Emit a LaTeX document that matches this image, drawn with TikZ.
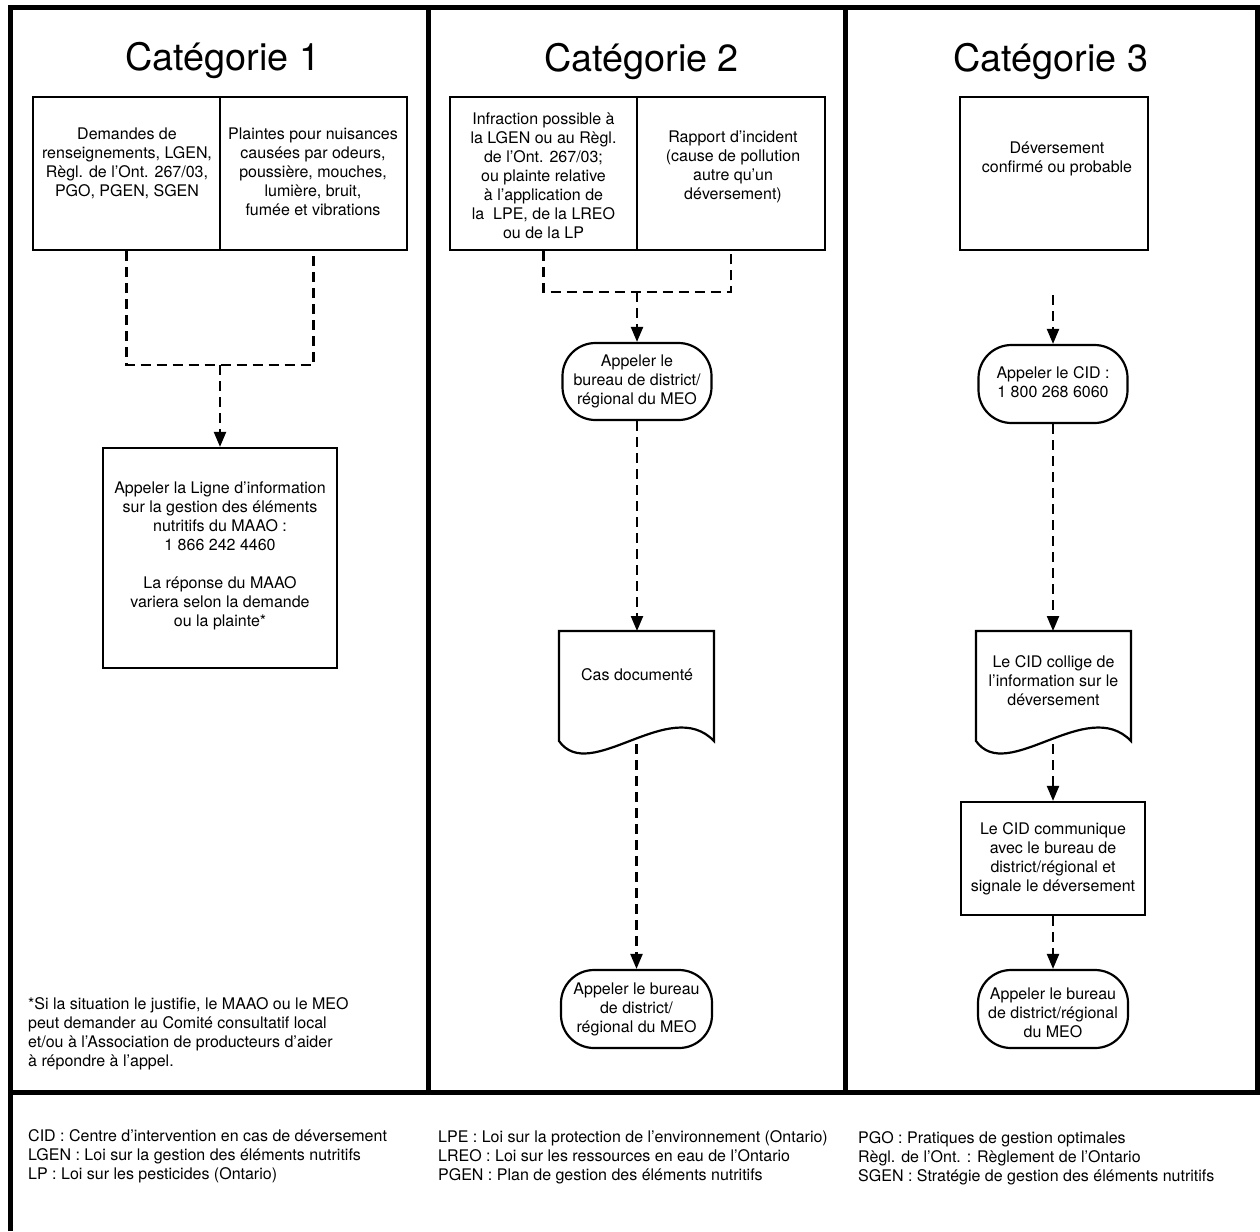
\documentclass[tikz,border=0pt]{standalone}
\usepackage{fontspec}
\setmainfont{TeX Gyre Heros}
\usetikzlibrary{arrows.meta}
\begin{document}
\begin{tikzpicture}[x=1pt,y=-1pt,
  frame/.style={line width=5pt},
  boxstyle/.style={draw, line width=2.2pt, rectangle, inner sep=0pt},
  termstyle/.style={draw, line width=2.2pt, rectangle, rounded corners=33pt, inner sep=0pt},
  hidden/.style={rectangle, inner sep=0pt},
  docline/.style={line width=2.2pt, line join=miter},
  txt/.style={align=center, inner sep=0pt, font=\fontsize{16}{19}\selectfont},
  legend/.style={align=left, anchor=west, inner sep=0pt, font=\fontsize{16}{19}\selectfont},
  titlestyle/.style={inner sep=0pt, font=\fontsize{37.8}{44}\selectfont},
  dashline/.style={line width=2.2pt, dash pattern=on 10pt off 6pt},
  dasharrow/.style={dashline, -{Triangle[length=15pt,width=12pt]}}
]
\useasboundingbox (0,0) rectangle (1260,1231);

% frame
\draw[frame] (10.5,1231) -- (10.5,7.5) -- (1257.5,7.5) -- (1257.5,1092);
\draw[frame] (8,1092) -- (1260,1092);
\draw[frame] (428,7.5) -- (428,1092);
\draw[frame] (845,7.5) -- (845,1092);

% titles
\node[titlestyle] (t1) at (223,61) {Catégorie 1};
\node[titlestyle] (t2) at (641.5,62) {Catégorie 2};
\node[titlestyle] (t3) at (1051,62) {Catégorie 3};

% ---------- Category 1 ----------
\node[boxstyle, minimum width=187pt, minimum height=153pt] (c1a) at (126.5,173.5) {};
\node[boxstyle, minimum width=187pt, minimum height=153pt] (c1b) at (313.5,173.5) {};
\node[txt] (c1at) at (127,163) {Demandes de\\renseignements, LGEN,\\Règl. de l’Ont. 267/03,\\PGO, PGEN, SGEN};
\node[txt] (c1bt) at (313,172) {Plaintes pour nuisances\\causées par odeurs,\\poussière, mouches,\\lumière, bruit,\\fumée et vibrations};
\coordinate (j1) at (220,365);
\draw[dashline] (c1a.south) |- (j1) -| (c1b.south);
\node[boxstyle, minimum width=234pt, minimum height=220pt] (c1c) at (220,558) {};
\node[txt] (c1ct) at (220,556) {Appeler la Ligne d’information\\sur la gestion des éléments\\nutritifs du MAAO :\\1 866 242 4460\\[19pt]La réponse du MAAO\\variera selon la demande\\ou la plainte*};
\draw[dasharrow] (j1) -- (c1c.north);
\node[legend] (note) at (28,1033.5) {*Si la situation le justifie, le MAAO ou le MEO\\peut demander au Comité consultatif local\\et/ou à l’Association de producteurs d’aider\\à répondre à l’appel.};

% ---------- Category 2 ----------
\node[boxstyle, minimum width=187pt, minimum height=153pt] (c2a) at (543.5,173.5) {};
\node[boxstyle, minimum width=188pt, minimum height=153pt] (c2b) at (731,173.5) {};
\node[txt] (c2at) at (543.5,176) {Infraction possible à\\la LGEN ou au Règl.\\de l’Ont. 267/03;\\ou plainte relative\\à l’application de\\la\ \ LPE, de la LREO\\ou de la LP};
\node[txt] (c2bt) at (733,166.5) {Rapport d’incident\\(cause de pollution\\autre qu’un\\déversement)};
\coordinate (j2) at (637,292);
\draw[dashline] (c2a.south) |- (j2) -| (c2b.south);
\node[termstyle, minimum width=149pt, minimum height=77pt] (c2o1) at (637,381.5) {};
\node[txt] (c2o1t) at (637,381.5) {Appeler le\\bureau de district/\\régional du MEO};
\draw[dasharrow] (j2) -- (c2o1.north);
\node[hidden, anchor=north, minimum width=155pt, minimum height=110pt] (c2doc) at (636.5,631) {};
\draw[docline] (559,741) -- (559,631) -- (714,631) -- (714,741) .. controls (670,695) and (590,785) .. (559,741) -- cycle;
\node[txt] (c2doct) at (637,675) {Cas documenté};
\draw[dasharrow] (c2o1.south) -- (c2o1.south |- c2doc.north);
\coordinate (c2docb) at (636.5,744);
\node[termstyle, minimum width=151pt, minimum height=78pt] (c2o2) at (636.5,1009) {};
\node[txt] (c2o2t) at (636.5,1009) {Appeler le bureau\\de district/\\régional du MEO};
\draw[dasharrow] (c2docb) -- (c2o2.north);

% ---------- Category 3 ----------
\node[boxstyle, minimum width=188pt, minimum height=153pt] (c3a) at (1054,173.5) {};
\node[txt] (c3at) at (1057,158.5) {Déversement\\confirmé ou probable};
\coordinate (s3) at (1053,295);
\node[termstyle, minimum width=149pt, minimum height=78pt] (c3o1) at (1053,384) {};
\node[txt] (c3o1t) at (1053,382.5) {Appeler le CID :\\1 800 268 6060};
\draw[dasharrow] (s3) -- (c3o1.north);
\node[hidden, anchor=north, minimum width=155pt, minimum height=110pt] (c3doc) at (1053.5,631) {};
\draw[docline] (976,741) -- (976,631) -- (1131,631) -- (1131,741) .. controls (1087,695) and (1007,785) .. (976,741) -- cycle;
\node[txt] (c3doct) at (1053.5,681) {Le CID collige de\\l’information sur le\\déversement};
\draw[dasharrow] (c3o1.south) -- (c3o1.south |- c3doc.north);
\coordinate (c3docb) at (1053,744);
\node[boxstyle, minimum width=184pt, minimum height=113pt] (c3b) at (1053,858.5) {};
\node[txt] (c3bt) at (1053,858.5) {Le CID communique\\avec le bureau de\\district/régional et\\signale le déversement};
\draw[dasharrow] (c3docb) -- (c3b.north);
\node[termstyle, minimum width=150pt, minimum height=78pt] (c3o2) at (1053,1009) {};
\node[txt] (c3o2t) at (1053,1013) {Appeler le bureau\\de district/régional\\du MEO};
\draw[dasharrow] (c3b.south) -- (c3o2.north);

% ---------- Legend ----------
\node[legend] (lg1) at (28,1156) {CID : Centre d’intervention en cas de déversement\\LGEN : Loi sur la gestion des éléments nutritifs\\LP : Loi sur les pesticides (Ontario)};
\node[legend] (lg2) at (438,1157) {LPE : Loi sur la protection de l’environnement (Ontario)\\LREO : Loi sur les ressources en eau de l’Ontario\\PGEN : Plan de gestion des éléments nutritifs};
\node[legend] (lg3) at (858,1158) {PGO : Pratiques de gestion optimales\\Règl. de l’Ont. : Règlement de l’Ontario\\SGEN : Stratégie de gestion des éléments nutritifs};
\end{tikzpicture}
\end{document}
